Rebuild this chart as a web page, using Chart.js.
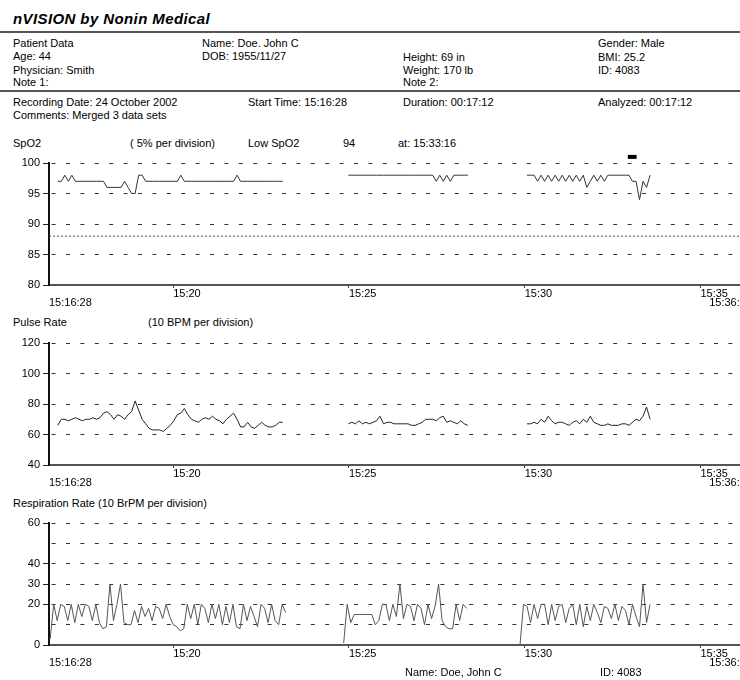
<!DOCTYPE html>
<html>
<head>
<meta charset="utf-8">
<script src="https://cdn.jsdelivr.net/npm/chart.js@4.4.1/dist/chart.umd.min.js"></script>
<style>
html, body { margin: 0; padding: 0; width: 740px; height: 680px; overflow: hidden; background: #fff; }
body { position: relative; font: 11px "Liberation Sans", Arial, sans-serif; color: #000; }
.t { position: absolute; line-height: 12px; white-space: nowrap; }
.title { font: italic bold 15px "Liberation Sans", Arial, sans-serif; letter-spacing: 0.4px; line-height: 16px; }
.rule { position: absolute; left: 0; width: 740px; height: 2px; background: #555; }
canvas { position: absolute; left: 0; }
</style>
</head>
<body>

<div class="t title" style="left:13px;top:11px">nVISION by Nonin Medical</div>
<div class="rule" style="top:31px"></div>

<div class="t" style="left:13px;top:37px">Patient Data</div>
<div class="t" style="left:13px;top:50px">Age: 44</div>
<div class="t" style="left:13px;top:64px">Physician: Smith</div>
<div class="t" style="left:13px;top:76px">Note 1:</div>
<div class="t" style="left:202px;top:37px">Name: Doe. John C</div>
<div class="t" style="left:202px;top:50px">DOB: 1955/11/27</div>
<div class="t" style="left:403px;top:51px">Height: 69 in</div>
<div class="t" style="left:403px;top:64px">Weight: 170 lb</div>
<div class="t" style="left:403px;top:76px">Note 2:</div>
<div class="t" style="left:598px;top:37px">Gender: Male</div>
<div class="t" style="left:598px;top:51px">BMI: 25.2</div>
<div class="t" style="left:598px;top:64px">ID: 4083</div>
<div class="rule" style="top:90px"></div>

<div class="t" style="left:13px;top:96px">Recording Date: 24 October 2002</div>
<div class="t" style="left:248px;top:96px">Start Time: 15:16:28</div>
<div class="t" style="left:403px;top:96px">Duration: 00:17:12</div>
<div class="t" style="left:598px;top:96px">Analyzed: 00:17:12</div>
<div class="t" style="left:13px;top:109px">Comments: Merged 3 data sets</div>

<div class="t" style="left:13px;top:137px">SpO2</div>
<div class="t" style="left:130px;top:137px">( 5% per division)</div>
<div class="t" style="left:248px;top:137px">Low SpO2</div>
<div class="t" id="lowVal" style="left:343px;top:137px"></div>
<div class="t" id="lowAt" style="left:398px;top:137px"></div>

<div class="t" style="left:13px;top:316px">Pulse Rate</div>
<div class="t" style="left:148px;top:316px">(10 BPM per division)</div>

<div class="t" style="left:13px;top:497px">Respiration Rate (10 BrPM per division)</div>

<canvas id="spo2Chart" width="752" height="162" style="top:153px"></canvas>
<canvas id="pulseChart" width="752" height="162" style="top:333px"></canvas>
<canvas id="respChart" width="752" height="162" style="top:513px"></canvas>

<div class="t" style="left:405px;top:666px">Name: Doe, John C</div>
<div class="t" style="left:600px;top:666px">ID: 4083</div>

<script>
// time axis, in seconds after the 15:16:28 start
const startClock = 15 * 3600 + 16 * 60 + 28;
const axisSpan = 1200;
const sampleStep = 6;
const tickTimes = [212, 512, 812, 1112];
const tickLabels = ['15:20', '15:25', '15:30', '15:35'];
const startLabel = '15:16:28';
const endLabel = '15:36:28';

// SpO2 (%) - three merged recordings
const spo2Starts = [15, 511, 816];
const spo2Seg1 = [97, 97, 98, 97, 98, 97, 97, 97, 97, 97,
  97, 97, 97, 97, 96, 96, 96, 96, 96, 97,
  96, 95, 95, 98, 98, 97, 97, 97, 97, 97,
  97, 97, 97, 97, 97, 98, 97, 97, 97, 97,
  97, 97, 97, 97, 97, 97, 97, 97, 97, 97,
  97, 98, 97, 97, 97, 97, 97, 97, 97, 97,
  97, 97, 97, 97, 97];
const spo2Seg2 = [98, 98, 98, 98, 98, 98, 98, 98, 98, 98,
  98, 98, 98, 98, 98, 98, 98, 98, 98, 98,
  98, 98, 98, 98, 98, 97, 98, 97, 98, 97,
  98, 98, 98, 98, 98];
const spo2Seg3 = [98, 98, 98, 97, 98, 97, 98, 97, 98, 97,
  98, 97, 98, 97, 98, 97, 98, 96, 97, 98,
  97, 98, 97, 98, 98, 98, 98, 98, 98, 98,
  97, 97, 94, 97, 96, 98];
const spo2Limit = 88;
const eventMarkTimes = [988, 1003];

// pulse rate (BPM)
const pulseStarts = [15, 511, 816];
const pulseSeg1 = [66, 70, 70, 69, 70, 71, 70, 69, 70, 70,
  71, 70, 71, 74, 75, 73, 70, 73, 72, 70,
  73, 75, 82, 76, 70, 67, 64, 63, 63, 63,
  62, 64, 66, 69, 73, 74, 77, 73, 70, 69,
  68, 70, 71, 70, 72, 70, 69, 67, 70, 72,
  74, 70, 65, 65, 68, 65, 64, 66, 68, 66,
  65, 65, 66, 68, 68];
const pulseSeg2 = [67, 68, 67, 69, 67, 68, 67, 68, 69, 72,
  67, 68, 68, 67, 67, 67, 67, 67, 66, 66,
  67, 68, 70, 70, 70, 69, 71, 72, 68, 69,
  68, 67, 69, 67, 66];
const pulseSeg3 = [67, 67, 68, 67, 70, 68, 72, 69, 67, 68,
  68, 67, 66, 68, 69, 67, 70, 68, 72, 68,
  67, 66, 66, 67, 66, 66, 66, 67, 67, 66,
  68, 70, 69, 72, 78, 70];

// respiration rate (BrPM)
const respStarts = [2, 503, 804];
const respSeg1 = [3, 20, 12, 20, 19, 12, 20, 11, 20, 14,
  20, 19, 12, 20, 11, 8, 9, 30, 12, 20,
  30, 11, 10, 10, 17, 11, 19, 14, 18, 12,
  19, 18, 13, 20, 14, 10, 9, 7, 8, 20,
  13, 20, 10, 20, 18, 11, 20, 13, 20, 10,
  19, 11, 20, 9, 8, 20, 12, 19, 14, 9,
  20, 18, 11, 20, 12, 10, 20, 16];
const respSeg2 = [1, 20, 11, 15, 15, 15, 15, 15, 15, 10,
  12, 20, 20, 12, 20, 14, 30, 13, 20, 19,
  12, 20, 18, 10, 20, 13, 19, 30, 12, 9,
  8, 8, 20, 12, 20, 18];
const respSeg3 = [0, 20, 19, 11, 20, 13, 20, 20, 10, 20,
  12, 19, 20, 11, 18, 20, 10, 20, 9, 19,
  12, 20, 16, 11, 19, 18, 13, 20, 12, 19,
  17, 10, 20, 14, 9, 30, 11, 20];

// labelled values on each vertical axis
const spo2Ticks = [80, 85, 90, 95, 100];
const pulseTicks = [40, 60, 80, 100, 120];
const respTicks = [0, 20, 30, 40, 60];

const fontFamily = '"Liberation Sans", Arial, sans-serif';
Chart.defaults.font.family = fontFamily;
Chart.defaults.font.size = 11;
Chart.defaults.color = '#000';

function trace(starts, segments) {
  const pts = [];
  segments.forEach((vals, s) => {
    vals.forEach((v, i) => pts.push({ x: starts[s] + i * sampleStep, y: v }));
    pts.push({ x: starts[s] + vals.length * sampleStep, y: null });
  });
  return pts;
}

function clock(t) {
  const n = startClock + t;
  const p = v => String(v).padStart(2, '0');
  return p(Math.floor(n / 3600)) + ':' + p(Math.floor(n / 60) % 60) + ':' + p(n % 60);
}

// time labels under each x axis
const timeLabels = {
  id: 'timeLabels',
  afterDraw(chart) {
    const xs = chart.scales.x;
    const base = chart.chartArea.bottom;
    const ctx = chart.ctx;
    ctx.save();
    ctx.fillStyle = '#000';
    ctx.textBaseline = 'middle';
    ctx.font = '11px ' + fontFamily;
    ctx.textAlign = 'left';
    tickTimes.forEach((t, i) => ctx.fillText(tickLabels[i], xs.getPixelForValue(t), base + 9));
    ctx.fillText(startLabel, xs.getPixelForValue(0), base + 18);
    ctx.textAlign = 'right';
    ctx.fillText(endLabel, xs.getPixelForValue(axisSpan), base + 18);
    ctx.restore();
  }
};

function panel(id, series, color, yMin, yMax, labelled, extra) {
  const datasets = [{ data: series, borderColor: color, borderWidth: 1, pointRadius: 0, tension: 0 }].concat(extra || []);
  return new Chart(document.getElementById(id), {
    type: 'line',
    data: { datasets: datasets },
    options: {
      responsive: false,
      animation: false,
      parsing: false,
      devicePixelRatio: 1,
      layout: { padding: { top: 10, left: 0, right: 0, bottom: 0 } },
      plugins: { legend: { display: false }, tooltip: { enabled: false } },
      scales: {
        x: {
          type: 'linear', min: 0, max: axisSpan,
          afterBuildTicks: s => { s.ticks = tickTimes.map(v => ({ value: v })); },
          afterFit: s => { s.height = 30; },
          ticks: { display: false },
          grid: { drawOnChartArea: false, tickLength: 3, tickColor: '#333' },
          border: { color: '#555', width: 2 }
        },
        y: {
          min: yMin, max: yMax,
          afterFit: s => { s.width = 49; },
          ticks: {
            stepSize: yMin === 80 ? 5 : 10,
            padding: 3,
            color: '#000',
            callback: v => labelled.includes(v) ? v : ''
          },
          grid: {
            color: '#333',
            tickLength: 6,
            tickColor: c => (c.tick && labelled.includes(c.tick.value)) ? '#222' : 'rgba(0,0,0,0)'
          },
          border: { color: '#111', width: 2, dash: [4, 10.4], dashOffset: -1.6 }
        }
      }
    },
    plugins: [timeLabels]
  });
}

const spo2Trace = trace(spo2Starts, [spo2Seg1, spo2Seg2, spo2Seg3]);
const pulseTrace = trace(pulseStarts, [pulseSeg1, pulseSeg2, pulseSeg3]);
const respTrace = trace(respStarts, [respSeg1, respSeg2, respSeg3]);

// lowest SpO2 reading and when it happened
const low = spo2Trace.filter(p => p.y !== null).reduce((a, b) => b.y < a.y ? b : a);
document.getElementById('lowVal').textContent = low.y;
document.getElementById('lowAt').textContent = 'at: ' + clock(low.x);

panel('spo2Chart', spo2Trace, '#333', 80, 100, spo2Ticks, [
  { data: [{ x: 0, y: spo2Limit }, { x: axisSpan, y: spo2Limit }], borderColor: '#555', borderWidth: 1, borderDash: [2, 2], pointRadius: 0 },
  { data: eventMarkTimes.map(t => ({ x: t, y: 101 })), borderColor: '#000', borderWidth: 4, pointRadius: 0, clip: false }
]);
panel('pulseChart', pulseTrace, '#222', 40, 120, pulseTicks);
panel('respChart', respTrace, '#555', 0, 60, respTicks);
</script>
</body>
</html>
